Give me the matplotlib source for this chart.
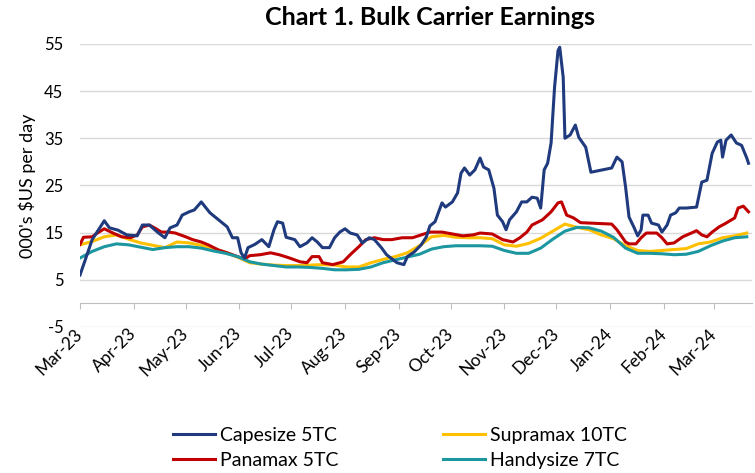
import pandas as pd
import matplotlib.pyplot as plt
import matplotlib.dates as mdates

plt.rcParams['font.family'] = ['Lato', 'DejaVu Sans']
plt.rcParams['axes.unicode_minus'] = False

# Capesize 5TC (000's $US per day)
cape_dates = ["2023-03-01", "2023-03-04", "2023-03-08", "2023-03-15", "2023-03-18", "2023-03-23",
              "2023-03-28", "2023-04-03", "2023-04-06", "2023-04-10", "2023-04-15", "2023-04-19",
              "2023-04-22", "2023-04-26", "2023-04-29", "2023-05-03", "2023-05-06", "2023-05-10",
              "2023-05-15", "2023-05-20", "2023-05-25", "2023-05-28", "2023-05-31", "2023-06-02",
              "2023-06-04", "2023-06-06", "2023-06-10", "2023-06-14", "2023-06-18", "2023-06-21",
              "2023-06-23", "2023-06-26", "2023-06-28", "2023-07-03", "2023-07-06", "2023-07-10",
              "2023-07-13", "2023-07-16", "2023-07-19", "2023-07-23", "2023-07-26", "2023-07-29",
              "2023-08-01", "2023-08-04", "2023-08-08", "2023-08-11", "2023-08-15", "2023-08-18",
              "2023-08-22", "2023-08-25", "2023-08-31", "2023-09-04", "2023-09-06", "2023-09-10",
              "2023-09-14", "2023-09-17", "2023-09-19", "2023-09-22", "2023-09-26", "2023-09-28",
              "2023-10-02", "2023-10-05", "2023-10-07", "2023-10-09", "2023-10-12", "2023-10-15",
              "2023-10-18", "2023-10-20", "2023-10-23", "2023-10-26", "2023-10-28", "2023-10-31",
              "2023-11-02", "2023-11-04", "2023-11-08", "2023-11-11", "2023-11-14", "2023-11-17",
              "2023-11-20", "2023-11-22", "2023-11-24", "2023-11-26", "2023-11-28", "2023-11-30",
              "2023-12-02", "2023-12-03", "2023-12-05", "2023-12-06", "2023-12-09", "2023-12-12",
              "2023-12-14", "2023-12-18", "2023-12-21", "2024-01-02", "2024-01-05", "2024-01-08",
              "2024-01-10", "2024-01-12", "2024-01-15", "2024-01-17", "2024-01-19", "2024-01-20",
              "2024-01-23", "2024-01-25", "2024-01-29", "2024-01-31", "2024-02-03", "2024-02-05",
              "2024-02-08", "2024-02-10", "2024-02-14", "2024-02-20", "2024-02-23", "2024-02-26",
              "2024-02-29", "2024-03-03", "2024-03-05", "2024-03-06", "2024-03-08", "2024-03-11",
              "2024-03-14", "2024-03-17", "2024-03-20", "2024-03-21"]
cape = [6.0, 9.2, 13.5, 17.5, 16.0, 15.5,
        14.5, 14.3, 16.6, 16.6, 15.0, 13.9,
        16.0, 16.6, 18.7, 19.4, 19.8, 21.5,
        19.2, 17.7, 16.2, 13.9, 13.9, 10.7,
        9.6, 11.8, 12.5, 13.5, 12.0, 15.6,
        17.3, 17.0, 14.0, 13.5, 12.0, 12.8,
        13.9, 13.0, 11.8, 11.8, 13.9, 15.1,
        15.8, 14.9, 14.5, 12.8, 13.9, 13.5,
        11.8, 10.3, 8.6, 8.2, 9.9, 10.9,
        12.4, 14.1, 16.4, 17.3, 21.3, 20.4,
        21.5, 23.4, 27.6, 28.7, 27.2, 28.3,
        30.8, 28.9, 28.3, 24.4, 18.7, 17.3,
        15.6, 17.7, 19.4, 21.5, 21.5, 22.5,
        22.3, 20.2, 28.3, 29.7, 34.0, 45.8,
        53.6, 54.3, 47.9, 35.0, 35.7, 37.8,
        35.2, 33.1, 27.8, 28.7, 31.0, 30.0,
        24.7, 18.3, 16.0, 14.3, 15.6, 18.7,
        18.7, 17.0, 16.6, 15.1, 16.6, 18.7,
        19.2, 20.2, 20.2, 20.4, 25.7, 26.1,
        31.8, 34.2, 34.6, 31.0, 34.6, 35.7,
        34.0, 33.5, 30.8, 29.7]

# Panamax 5TC
pana_dates = ["2023-03-01", "2023-03-03", "2023-03-08", "2023-03-11", "2023-03-15", "2023-03-20",
              "2023-03-25", "2023-03-30", "2023-04-03", "2023-04-06", "2023-04-10", "2023-04-13",
              "2023-04-17", "2023-04-21", "2023-04-25", "2023-05-01", "2023-05-05", "2023-05-10",
              "2023-05-14", "2023-05-20", "2023-05-25", "2023-05-31", "2023-06-04", "2023-06-07",
              "2023-06-13", "2023-06-19", "2023-06-24", "2023-06-30", "2023-07-06", "2023-07-10",
              "2023-07-13", "2023-07-17", "2023-07-19", "2023-07-25", "2023-07-31", "2023-08-04",
              "2023-08-09", "2023-08-13", "2023-08-18", "2023-08-23", "2023-08-28", "2023-09-03",
              "2023-09-09", "2023-09-14", "2023-09-19", "2023-09-26", "2023-10-02", "2023-10-08",
              "2023-10-14", "2023-10-18", "2023-10-25", "2023-10-31", "2023-11-06", "2023-11-10",
              "2023-11-14", "2023-11-17", "2023-11-23", "2023-11-28", "2023-12-02", "2023-12-04",
              "2023-12-07", "2023-12-11", "2023-12-15", "2024-01-02", "2024-01-05", "2024-01-10",
              "2024-01-12", "2024-01-16", "2024-01-19", "2024-01-22", "2024-01-28", "2024-01-31",
              "2024-02-03", "2024-02-07", "2024-02-12", "2024-02-17", "2024-02-20", "2024-02-23",
              "2024-02-26", "2024-02-29", "2024-03-04", "2024-03-08", "2024-03-13", "2024-03-15",
              "2024-03-18", "2024-03-21"]
pana = [12.5, 14.0, 14.1, 14.9, 15.8, 14.9,
        14.1, 13.9, 14.5, 16.2, 16.6, 16.0,
        15.1, 15.1, 14.9, 14.1, 13.5, 13.0,
        12.4, 11.3, 10.7, 9.9, 9.4, 10.1,
        10.3, 10.7, 10.3, 9.6, 8.8, 8.6,
        9.9, 9.9, 8.6, 8.2, 8.8, 10.3,
        12.0, 13.5, 13.9, 13.5, 13.5, 13.9,
        13.9, 14.5, 15.1, 15.1, 14.7, 14.3,
        14.5, 14.9, 14.7, 13.5, 13.0, 13.9,
        15.1, 16.6, 17.7, 19.4, 21.3, 21.5,
        18.7, 18.1, 17.1, 16.8, 15.6, 13.0,
        12.6, 12.6, 13.9, 14.9, 14.9, 13.9,
        12.6, 12.8, 14.1, 14.9, 15.4, 14.5,
        14.1, 15.1, 16.2, 17.0, 18.1, 20.2,
        20.6, 19.4]

# Supramax 10TC and Handysize 7TC, weekly readings
weekly_dates = pd.date_range("2023-03-01", periods=56, freq="7D")
supra = [12.4, 13.1, 14.1, 14.5, 13.6, 12.8, 12.3, 11.8, 13.0, 12.8,
         12.3, 11.6, 10.8, 9.8, 8.6, 8.3, 8.1, 8.0, 8.0, 8.1,
         8.2, 8.1, 7.7, 7.7, 8.6, 9.3, 9.9, 10.7, 12.2, 14.1,
         14.4, 14.0, 13.9, 13.9, 13.7, 12.4, 12.1, 12.7, 13.8, 15.3,
         16.8, 16.1, 15.6, 14.5, 13.7, 12.2, 11.2, 11.0, 11.2, 11.4,
         11.6, 12.6, 13.0, 13.9, 14.3, 14.9]
handy = [9.6, 11.0, 12.0, 12.6, 12.4, 11.9, 11.4, 11.8, 12.0, 12.0,
         11.7, 11.1, 10.6, 9.9, 8.8, 8.3, 8.0, 7.7, 7.7, 7.6,
         7.4, 7.1, 7.1, 7.2, 7.7, 8.6, 9.2, 9.8, 10.4, 11.5,
         12.0, 12.2, 12.2, 12.2, 12.1, 11.2, 10.6, 10.6, 11.7, 13.6,
         15.3, 16.1, 16.0, 15.3, 14.0, 11.7, 10.6, 10.6, 10.5, 10.3,
         10.4, 11.0, 12.2, 13.2, 13.9, 14.1]

fig = plt.figure(figsize=(7.55, 4.73), dpi=100)
ax = fig.add_axes([0.106, 0.309, 0.890, 0.598])

ax.plot(pd.to_datetime(cape_dates), cape, color='#1F3A7D', lw=2.2, label='Capesize 5TC', zorder=5)
ax.plot(pd.to_datetime(pana_dates), pana, color='#C00000', lw=2.2, label='Panamax 5TC', zorder=3)
ax.plot(weekly_dates, supra, color='#FFC000', lw=2.2, label='Supramax 10TC', zorder=2)
ax.plot(weekly_dates, handy, color='#1C97A0', lw=2.2, label='Handysize 7TC', zorder=4)

ax.set_ylim(-5, 55)
ax.set_yticks(range(-5, 56, 10))
ax.set_xlim(pd.Timestamp("2023-03-01"), pd.Timestamp("2024-03-23"))
ax.xaxis.set_major_locator(mdates.MonthLocator())
ax.xaxis.set_major_formatter(mdates.DateFormatter('%b-%y'))

ax.grid(axis='y', color='#D9D9D9', lw=1)
ax.set_axisbelow(True)
for s in ['top', 'right', 'left']:
    ax.spines[s].set_visible(False)
ax.spines['bottom'].set_position(('data', 0))
ax.spines['bottom'].set_color('#BFBFBF')
ax.tick_params(axis='x', length=4, color='#BFBFBF', labelsize=12.5, pad=16)
ax.tick_params(axis='y', length=0, labelsize=12, pad=12)
for lab in ax.get_xticklabels():
    lab.set_rotation(45)
    lab.set_ha('right')
    lab.set_rotation_mode('anchor')
    lab.set_va('center')

ax.set_ylabel("000's $US per day", fontsize=13, labelpad=6)

fig.text(0.57, 0.962, "Chart 1. Bulk Carrier Earnings", ha='center', va='center',
         fontsize=18, fontweight='bold')

fig.legend(loc='upper left', bbox_to_anchor=(0.229, 0.098), ncol=2, frameon=False,
           fontsize=14, handlelength=2.15, handletextpad=0.26, columnspacing=5.4,
           labelspacing=0.42, borderpad=0, borderaxespad=0)

fig.savefig('out.png', dpi=100)
